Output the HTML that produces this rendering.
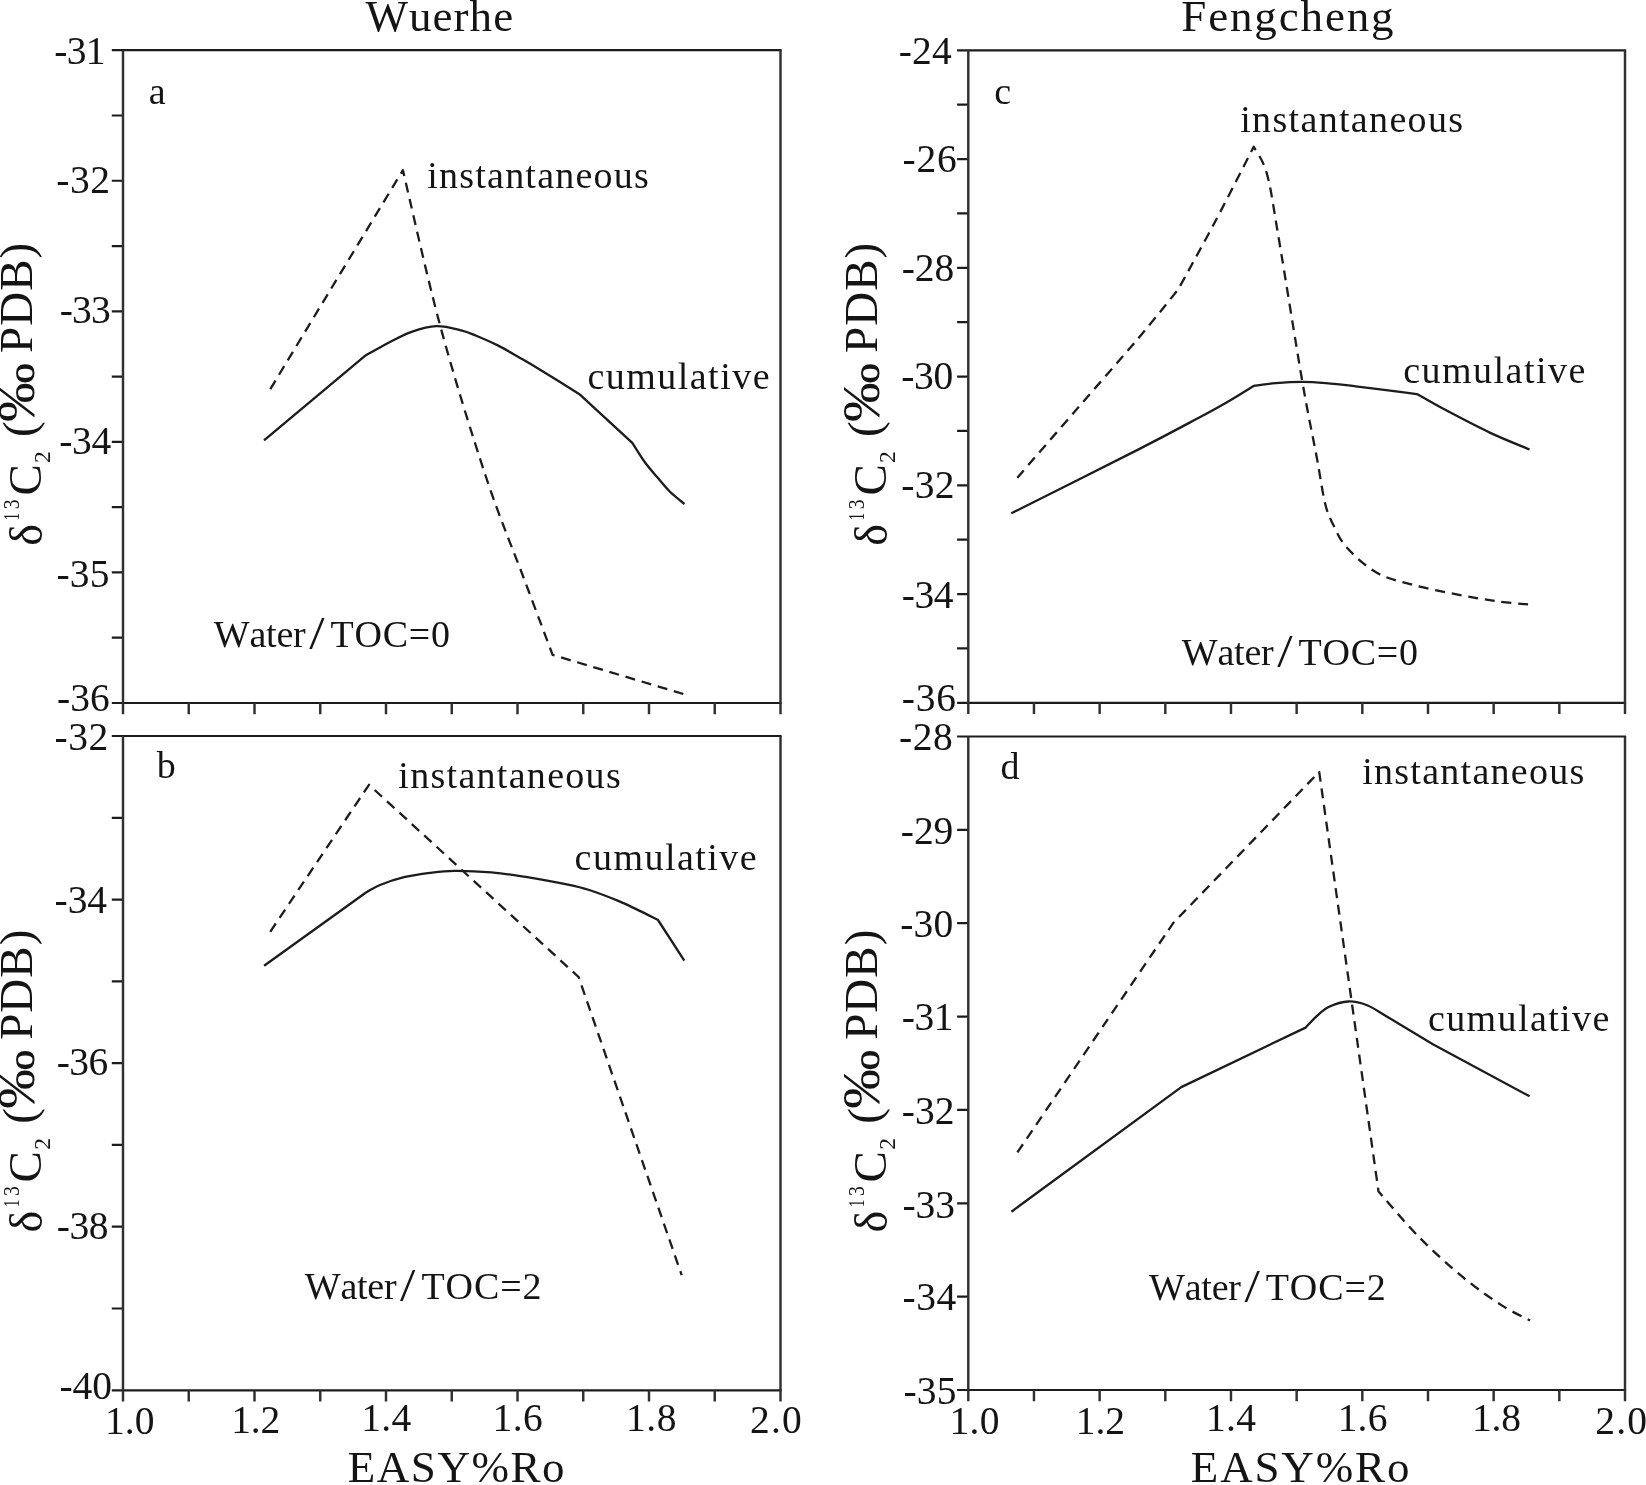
<!DOCTYPE html>
<html lang="en"><head><meta charset="utf-8"><title>Wuerhe / Fengcheng carbon isotope model</title>
<style>
html,body{margin:0;padding:0;background:#fff}
body{width:1646px;height:1485px;overflow:hidden}
svg{display:block;filter:blur(0.45px)}
text{font-family:"Liberation Serif",serif;fill:#141414;font-kerning:none;font-variant-ligatures:none;white-space:pre}
.ax{fill:none;stroke:#1c1c1c;stroke-width:2.2;stroke-linecap:butt;stroke-linejoin:miter}
.av{stroke:#303030;stroke-width:2.45}
.cv{fill:none;stroke:#1c1c1c;stroke-width:2.3;stroke-linejoin:round;stroke-linecap:butt}
.ds{stroke-dasharray:10 6.8}
</style></head><body>
<svg width="1646" height="1485" viewBox="0 0 1646 1485">
<rect width="1646" height="1485" fill="#fff"/>
<path class="ax" d="M121.90 50.2H781.60M121.90 703.0H781.60M123.0 50.20h-11.2M123.0 115.48h-11.2M123.0 180.76h-11.2M123.0 246.04h-11.2M123.0 311.32h-11.2M123.0 376.60h-11.2M123.0 441.88h-11.2M123.0 507.16h-11.2M123.0 572.44h-11.2M123.0 637.72h-11.2M123.0 703.00h-11.2"/>
<path class="ax av" d="M123.0 50.2V703.0M780.5 50.2V703.0M123.00 703.0v11.2M188.75 703.0v11.2M254.50 703.0v11.2M320.25 703.0v11.2M386.00 703.0v11.2M451.75 703.0v11.2M517.50 703.0v11.2M583.25 703.0v11.2M649.00 703.0v11.2M714.75 703.0v11.2M780.50 703.0v11.2"/>
<path class="ax" d="M121.90 736.0H781.60M121.90 1390.3H781.60M123.0 736.00h-11.2M123.0 817.79h-11.2M123.0 899.58h-11.2M123.0 981.36h-11.2M123.0 1063.15h-11.2M123.0 1144.94h-11.2M123.0 1226.72h-11.2M123.0 1308.51h-11.2M123.0 1390.30h-11.2"/>
<path class="ax av" d="M123.0 736.0V1390.3M780.5 736.0V1390.3M123.00 1390.3v11.2M188.75 1390.3v11.2M254.50 1390.3v11.2M320.25 1390.3v11.2M386.00 1390.3v11.2M451.75 1390.3v11.2M517.50 1390.3v11.2M583.25 1390.3v11.2M649.00 1390.3v11.2M714.75 1390.3v11.2M780.50 1390.3v11.2"/>
<path class="ax" d="M967.20 50.3H1626.10M967.20 702.8H1626.10M968.3 50.30h-11.2M968.3 104.67h-11.2M968.3 159.05h-11.2M968.3 213.43h-11.2M968.3 267.80h-11.2M968.3 322.18h-11.2M968.3 376.55h-11.2M968.3 430.93h-11.2M968.3 485.30h-11.2M968.3 539.67h-11.2M968.3 594.05h-11.2M968.3 648.42h-11.2M968.3 702.80h-11.2"/>
<path class="ax av" d="M968.3 50.3V702.8M1625.0 50.3V702.8M968.30 702.8v11.2M1033.97 702.8v11.2M1099.64 702.8v11.2M1165.31 702.8v11.2M1230.98 702.8v11.2M1296.65 702.8v11.2M1362.32 702.8v11.2M1427.99 702.8v11.2M1493.66 702.8v11.2M1559.33 702.8v11.2M1625.00 702.8v11.2"/>
<path class="ax" d="M967.20 736.5H1626.10M967.20 1390.0H1626.10M968.3 736.50h-11.2M968.3 829.86h-11.2M968.3 923.21h-11.2M968.3 1016.57h-11.2M968.3 1109.93h-11.2M968.3 1203.29h-11.2M968.3 1296.64h-11.2M968.3 1390.00h-11.2"/>
<path class="ax av" d="M968.3 736.5V1390.0M1625.0 736.5V1390.0M968.30 1390.0v11.2M1033.97 1390.0v11.2M1099.64 1390.0v11.2M1165.31 1390.0v11.2M1230.98 1390.0v11.2M1296.65 1390.0v11.2M1362.32 1390.0v11.2M1427.99 1390.0v11.2M1493.66 1390.0v11.2M1559.33 1390.0v11.2M1625.00 1390.0v11.2"/>
<path class="cv" d="M264.00 440.30 L365.30 355.70 C369.42 353.42 382.28 345.98 390.00 342.00 C397.72 338.02 403.88 334.43 411.60 331.80 C419.32 329.17 428.05 326.45 436.30 326.20 C444.55 325.95 454.45 328.72 461.10 330.30 C467.75 331.88 470.08 333.18 476.20 335.70 C482.32 338.22 490.62 341.77 497.80 345.40 C504.98 349.03 512.12 353.37 519.30 357.50 C526.48 361.63 530.93 364.13 540.90 370.20 C550.87 376.27 572.73 389.95 579.10 393.90 L632.30 442.80 C634.33 445.97 640.33 456.05 644.50 461.80 C648.67 467.55 653.05 472.30 657.30 477.30 C661.55 482.30 665.47 487.35 670.00 491.80 C674.53 496.25 682.08 501.97 684.50 504.00"/>
<path class="cv ds" d="M270.30 389.10 L402.90 170.20 C409.15 196.25 426.55 275.37 440.40 326.50 C454.25 377.63 471.98 434.75 486.00 477.00 C500.02 519.25 513.40 550.35 524.50 580.00 C535.60 609.65 547.92 642.42 552.60 654.90 L685.40 694.60"/>
<path class="cv" d="M264.10 965.70 L366.00 892.50 C368.33 891.25 373.67 887.55 380.00 885.00 C386.33 882.45 395.67 879.23 404.00 877.20 C412.33 875.17 421.62 873.87 430.00 872.80 C438.38 871.73 444.05 870.88 454.30 870.80 C464.55 870.72 479.83 871.32 491.50 872.30 C503.17 873.28 511.55 874.65 524.30 876.70 C537.05 878.75 557.18 882.38 568.00 884.60 C578.82 886.82 580.82 887.28 589.20 890.00 C597.58 892.72 610.05 897.50 618.30 900.90 C626.55 904.30 632.08 907.22 638.70 910.40 C645.32 913.58 654.78 918.40 658.00 920.00 L684.30 960.60"/>
<path class="cv ds" d="M270.20 931.80 L369.00 784.80 L578.60 977.00 L681.70 1275.20"/>
<path class="cv" d="M1011.30 513.30 C1032.43 502.68 1107.08 465.40 1138.10 449.60 C1169.12 433.80 1182.58 426.40 1197.40 418.50 C1212.22 410.60 1217.62 407.63 1227.00 402.20 C1236.38 396.77 1249.25 388.62 1253.70 385.90 C1257.35 385.45 1267.52 383.87 1275.60 383.20 C1283.68 382.53 1293.82 381.92 1302.20 381.90 C1310.58 381.88 1317.00 382.37 1325.90 383.10 C1334.80 383.83 1343.25 384.85 1355.60 386.30 C1367.95 387.75 1389.68 390.47 1400.00 391.80 C1410.32 393.13 1414.58 393.88 1417.50 394.30 C1421.88 396.77 1431.75 402.72 1443.80 409.10 C1455.85 415.48 1475.52 425.87 1489.80 432.60 C1504.08 439.33 1522.88 446.68 1529.50 449.50"/>
<path class="cv ds" d="M1017.30 477.80 C1027.57 465.95 1058.77 429.92 1078.90 406.70 C1099.03 383.48 1121.57 358.02 1138.10 338.50 C1154.63 318.98 1171.43 297.75 1178.10 289.60 C1184.28 278.25 1202.60 245.30 1215.20 221.50 C1227.80 197.70 1247.28 159.25 1253.70 146.80 C1255.92 151.35 1262.80 158.68 1267.00 174.10 C1271.20 189.52 1273.00 204.65 1278.90 239.30 C1284.80 273.95 1296.13 345.88 1302.40 382.00 C1308.67 418.12 1312.73 435.83 1316.50 456.00 C1320.27 476.17 1322.25 491.63 1325.00 503.00 C1327.75 514.37 1329.33 516.73 1333.00 524.20 C1336.67 531.67 1339.63 539.67 1347.00 547.80 C1354.37 555.93 1366.18 566.82 1377.20 573.00 C1388.22 579.18 1399.45 581.27 1413.10 584.90 C1426.75 588.53 1445.03 592.07 1459.10 594.80 C1473.17 597.53 1485.77 599.67 1497.50 601.30 C1509.23 602.93 1524.17 604.05 1529.50 604.60"/>
<path class="cv" d="M1011.40 1211.70 L1181.30 1087.10 L1305.60 1027.60 C1307.42 1025.72 1312.58 1019.77 1316.50 1016.30 C1320.42 1012.83 1323.83 1009.27 1329.10 1006.80 C1334.37 1004.33 1341.77 1001.75 1348.10 1001.50 C1354.43 1001.25 1360.30 1002.58 1367.10 1005.30 C1373.90 1008.02 1377.87 1011.28 1388.90 1017.80 C1399.93 1024.32 1425.90 1039.97 1433.30 1044.40 L1529.60 1096.30"/>
<path class="cv ds" d="M1017.40 1152.40 C1032.33 1130.40 1080.98 1058.68 1107.00 1020.40 C1133.02 982.12 1162.42 938.98 1173.50 922.70 L1319.20 771.90 L1378.50 1191.50 C1385.17 1199.00 1404.43 1222.22 1418.50 1236.50 C1432.57 1250.78 1449.08 1265.77 1462.90 1277.20 C1476.72 1288.63 1490.22 1297.88 1501.40 1305.10 C1512.58 1312.32 1525.23 1317.93 1530.00 1320.50"/>
<text x="365.46" y="31.30" style="font-size:45px;letter-spacing:1.060px;">Wuerhe</text>
<text x="1181.30" y="31.30" style="font-size:45px;letter-spacing:1.851px;">Fengcheng</text>
<text x="347.70" y="1481.80" style="font-size:45px;letter-spacing:1.567px;">EASY%Ro</text>
<text x="1190.80" y="1481.90" style="font-size:45px;letter-spacing:1.850px;">EASY%Ro</text>
<text x="587.45" y="388.50" style="font-size:38px;letter-spacing:1.471px;">cumulative</text>
<text x="574.55" y="870.30" style="font-size:38px;letter-spacing:1.482px;">cumulative</text>
<text x="1403.15" y="383.00" style="font-size:38px;letter-spacing:1.482px;">cumulative</text>
<text x="1427.95" y="1031.10" style="font-size:38px;letter-spacing:1.393px;">cumulative</text>
<text x="427.20" y="188.00" style="font-size:38px;letter-spacing:1.235px;">instantaneous</text>
<text x="398.30" y="787.70" style="font-size:38px;letter-spacing:1.294px;">instantaneous</text>
<text x="1240.20" y="132.00" style="font-size:38px;letter-spacing:1.335px;">instantaneous</text>
<text x="1362.20" y="784.00" style="font-size:38px;letter-spacing:1.277px;">instantaneous</text>
<text x="213.86" y="646.80" style="font-size:38px;letter-spacing:-0.235px;">Water</text>
<text transform="translate(309.20 648.75) scale(1.2 1)" x="-0.00" y="0" style="font-size:46px;">/</text>
<text x="330.51" y="646.80" style="font-size:38px;letter-spacing:0.751px;">TOC=0</text>
<text x="304.76" y="1299.20" style="font-size:38px;letter-spacing:-0.235px;">Water</text>
<text transform="translate(400.10 1301.15) scale(1.2 1)" x="-0.00" y="0" style="font-size:46px;">/</text>
<text x="421.41" y="1299.20" style="font-size:38px;letter-spacing:0.913px;">TOC=2</text>
<text x="1181.86" y="665.10" style="font-size:38px;letter-spacing:-0.235px;">Water</text>
<text transform="translate(1277.20 667.05) scale(1.2 1)" x="-0.00" y="0" style="font-size:46px;">/</text>
<text x="1298.51" y="665.10" style="font-size:38px;letter-spacing:0.751px;">TOC=0</text>
<text x="1149.06" y="1299.60" style="font-size:38px;letter-spacing:-0.235px;">Water</text>
<text transform="translate(1244.40 1301.55) scale(1.2 1)" x="-0.00" y="0" style="font-size:46px;">/</text>
<text x="1265.71" y="1299.60" style="font-size:38px;letter-spacing:0.913px;">TOC=2</text>
<text x="148.66" y="104.00" style="font-size:38px;">a</text>
<text x="156.70" y="778.00" style="font-size:38px;">b</text>
<text x="994.25" y="103.50" style="font-size:38px;">c</text>
<text x="1000.53" y="778.80" style="font-size:38px;">d</text>
<text x="54.33" y="64.00" style="font-size:39.5px;letter-spacing:-0.708px;">-31</text>
<text x="56.33" y="192.70" style="font-size:39.5px;letter-spacing:0.496px;">-32</text>
<text x="59.63" y="322.90" style="font-size:39.5px;letter-spacing:-0.723px;">-33</text>
<text x="59.23" y="454.00" style="font-size:39.5px;letter-spacing:-0.285px;">-34</text>
<text x="56.53" y="587.00" style="font-size:39.5px;letter-spacing:0.177px;">-35</text>
<text x="57.03" y="710.70" style="font-size:39.5px;letter-spacing:-0.006px;">-36</text>
<text x="54.43" y="750.00" style="font-size:39.5px;letter-spacing:0.646px;">-32</text>
<text x="54.53" y="913.00" style="font-size:39.5px;letter-spacing:-0.035px;">-34</text>
<text x="56.73" y="1075.00" style="font-size:39.5px;letter-spacing:-0.556px;">-36</text>
<text x="56.73" y="1239.00" style="font-size:39.5px;letter-spacing:-0.392px;">-38</text>
<text x="59.53" y="1399.00" style="font-size:39.5px;letter-spacing:-0.092px;">-40</text>
<text x="898.63" y="63.80" style="font-size:39.5px;letter-spacing:0.265px;">-24</text>
<text x="902.43" y="172.00" style="font-size:39.5px;letter-spacing:0.894px;">-26</text>
<text x="901.73" y="280.80" style="font-size:39.5px;letter-spacing:-0.042px;">-28</text>
<text x="901.33" y="388.60" style="font-size:39.5px;letter-spacing:-0.392px;">-30</text>
<text x="901.33" y="498.30" style="font-size:39.5px;letter-spacing:0.246px;">-32</text>
<text x="901.73" y="607.50" style="font-size:39.5px;letter-spacing:-0.485px;">-34</text>
<text x="901.73" y="710.90" style="font-size:39.5px;letter-spacing:0.794px;">-36</text>
<text x="899.03" y="749.50" style="font-size:39.5px;letter-spacing:0.508px;">-28</text>
<text x="900.83" y="844.00" style="font-size:39.5px;letter-spacing:-0.084px;">-29</text>
<text x="900.23" y="936.50" style="font-size:39.5px;letter-spacing:0.158px;">-30</text>
<text x="901.73" y="1030.30" style="font-size:39.5px;letter-spacing:-0.408px;">-31</text>
<text x="901.73" y="1123.70" style="font-size:39.5px;letter-spacing:0.046px;">-32</text>
<text x="902.43" y="1217.50" style="font-size:39.5px;letter-spacing:-0.073px;">-33</text>
<text x="902.43" y="1310.30" style="font-size:39.5px;letter-spacing:0.615px;">-34</text>
<text x="903.53" y="1403.70" style="font-size:39.5px;letter-spacing:0.177px;">-35</text>
<text x="104.93" y="1434.30" style="font-size:39.5px;letter-spacing:0.151px;">1.0</text>
<text x="231.33" y="1432.60" style="font-size:39.5px;letter-spacing:-0.212px;">1.2</text>
<text x="361.33" y="1430.60" style="font-size:39.5px;letter-spacing:0.257px;">1.4</text>
<text x="492.43" y="1430.60" style="font-size:39.5px;letter-spacing:0.537px;">1.6</text>
<text x="626.03" y="1430.60" style="font-size:39.5px;letter-spacing:0.551px;">1.8</text>
<text x="750.06" y="1433.30" style="font-size:39.5px;letter-spacing:1.133px;">2.0</text>
<text x="949.53" y="1434.00" style="font-size:39.5px;letter-spacing:0.301px;">1.0</text>
<text x="1075.83" y="1434.00" style="font-size:39.5px;letter-spacing:-0.162px;">1.2</text>
<text x="1206.03" y="1431.00" style="font-size:39.5px;letter-spacing:0.257px;">1.4</text>
<text x="1337.63" y="1431.00" style="font-size:39.5px;letter-spacing:0.237px;">1.6</text>
<text x="1472.03" y="1431.00" style="font-size:39.5px;letter-spacing:-0.249px;">1.8</text>
<text x="1595.26" y="1434.30" style="font-size:39.5px;letter-spacing:1.183px;">2.0</text>
<g transform="translate(42.00 544.00) rotate(-90)"><text x="-1.73" y="0.00" style="font-size:46px;">δ</text></g><g transform="translate(19.40 519.00) rotate(-90)"><text transform="translate(0.00 0.00) scale(0.62 1)" x="-2.07" y="0" style="font-size:23.5px;">1</text></g><g transform="translate(19.40 508.20) rotate(-90)"><text transform="translate(0.00 0.00) scale(0.84 1)" x="-1.12" y="0" style="font-size:23.5px;">3</text></g><g transform="translate(41.40 493.70) rotate(-90)"><text x="-1.93" y="0.00" style="font-size:47px;">C</text></g><g transform="translate(49.50 461.90) rotate(-90)"><text x="-1.03" y="0.00" style="font-size:23.5px;">2</text></g><g transform="translate(34.80 435.00) rotate(-90)"><text x="-2.07" y="0.00" style="font-size:47px;">(</text></g><g transform="translate(33.60 420.30) rotate(-90)"><text transform="translate(0.00 0.00) scale(1.117 1)" x="-1.42" y="0" style="font-size:53px;font-family:"Liberation Sans", sans-serif;stroke:#fff;stroke-width:1.1px;">‰</text></g><g transform="translate(32.40 351.70) rotate(-90)"><text x="-1.35" y="0.00" style="font-size:47px;letter-spacing:1.046px;">PDB)</text></g>
<g transform="translate(42.00 1230.80) rotate(-90)"><text x="-1.73" y="0.00" style="font-size:46px;">δ</text></g><g transform="translate(19.40 1205.80) rotate(-90)"><text transform="translate(0.00 0.00) scale(0.62 1)" x="-2.07" y="0" style="font-size:23.5px;">1</text></g><g transform="translate(19.40 1195.00) rotate(-90)"><text transform="translate(0.00 0.00) scale(0.84 1)" x="-1.12" y="0" style="font-size:23.5px;">3</text></g><g transform="translate(41.40 1180.50) rotate(-90)"><text x="-1.93" y="0.00" style="font-size:47px;">C</text></g><g transform="translate(49.50 1148.70) rotate(-90)"><text x="-1.03" y="0.00" style="font-size:23.5px;">2</text></g><g transform="translate(34.80 1121.80) rotate(-90)"><text x="-2.07" y="0.00" style="font-size:47px;">(</text></g><g transform="translate(33.60 1107.10) rotate(-90)"><text transform="translate(0.00 0.00) scale(1.117 1)" x="-1.42" y="0" style="font-size:53px;font-family:"Liberation Sans", sans-serif;stroke:#fff;stroke-width:1.1px;">‰</text></g><g transform="translate(32.40 1038.50) rotate(-90)"><text x="-1.35" y="0.00" style="font-size:47px;letter-spacing:1.046px;">PDB)</text></g>
<g transform="translate(887.00 544.00) rotate(-90)"><text x="-1.73" y="0.00" style="font-size:46px;">δ</text></g><g transform="translate(864.40 519.00) rotate(-90)"><text transform="translate(0.00 0.00) scale(0.62 1)" x="-2.07" y="0" style="font-size:23.5px;">1</text></g><g transform="translate(864.40 508.20) rotate(-90)"><text transform="translate(0.00 0.00) scale(0.84 1)" x="-1.12" y="0" style="font-size:23.5px;">3</text></g><g transform="translate(886.40 493.70) rotate(-90)"><text x="-1.93" y="0.00" style="font-size:47px;">C</text></g><g transform="translate(894.50 461.90) rotate(-90)"><text x="-1.03" y="0.00" style="font-size:23.5px;">2</text></g><g transform="translate(879.80 435.00) rotate(-90)"><text x="-2.07" y="0.00" style="font-size:47px;">(</text></g><g transform="translate(878.60 420.30) rotate(-90)"><text transform="translate(0.00 0.00) scale(1.117 1)" x="-1.42" y="0" style="font-size:53px;font-family:"Liberation Sans", sans-serif;stroke:#fff;stroke-width:1.1px;">‰</text></g><g transform="translate(877.40 351.70) rotate(-90)"><text x="-1.35" y="0.00" style="font-size:47px;letter-spacing:1.046px;">PDB)</text></g>
<g transform="translate(887.00 1230.80) rotate(-90)"><text x="-1.73" y="0.00" style="font-size:46px;">δ</text></g><g transform="translate(864.40 1205.80) rotate(-90)"><text transform="translate(0.00 0.00) scale(0.62 1)" x="-2.07" y="0" style="font-size:23.5px;">1</text></g><g transform="translate(864.40 1195.00) rotate(-90)"><text transform="translate(0.00 0.00) scale(0.84 1)" x="-1.12" y="0" style="font-size:23.5px;">3</text></g><g transform="translate(886.40 1180.50) rotate(-90)"><text x="-1.93" y="0.00" style="font-size:47px;">C</text></g><g transform="translate(894.50 1148.70) rotate(-90)"><text x="-1.03" y="0.00" style="font-size:23.5px;">2</text></g><g transform="translate(879.80 1121.80) rotate(-90)"><text x="-2.07" y="0.00" style="font-size:47px;">(</text></g><g transform="translate(878.60 1107.10) rotate(-90)"><text transform="translate(0.00 0.00) scale(1.117 1)" x="-1.42" y="0" style="font-size:53px;font-family:"Liberation Sans", sans-serif;stroke:#fff;stroke-width:1.1px;">‰</text></g><g transform="translate(877.40 1038.50) rotate(-90)"><text x="-1.35" y="0.00" style="font-size:47px;letter-spacing:1.046px;">PDB)</text></g>
</svg>
</body></html>
